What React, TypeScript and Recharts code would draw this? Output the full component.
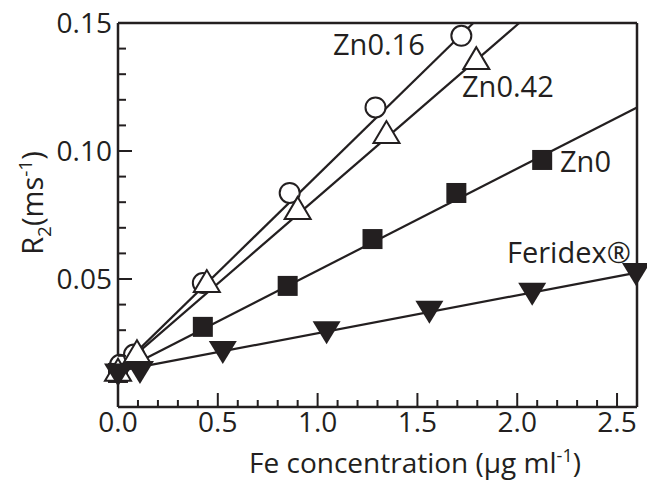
import React from 'react';
import { ScatterChart, Scatter, XAxis, YAxis, ReferenceLine } from 'recharts';

// measured points (Fe concentration in µg/ml, R2 in ms^-1)
const zn016X = [0.01, 0.08, 0.425, 0.86, 1.29, 1.72];
const zn016Y = [0.0165, 0.0205, 0.0484, 0.0836, 0.117, 0.145];
const zn042X = [0.0, 0.095, 0.445, 0.9, 1.345, 1.795];
const zn042Y = [0.0138, 0.021, 0.0484, 0.077, 0.1066, 0.1355];
const zn0X = [0.0, 0.425, 0.85, 1.275, 1.695, 2.125];
const zn0Y = [0.0133, 0.0313, 0.0473, 0.0656, 0.0836, 0.0965];
const feridexX = [0.0, 0.11, 0.525, 1.045, 1.56, 2.075, 2.595];
const feridexY = [0.0135, 0.0145, 0.0223, 0.030, 0.038, 0.045, 0.0527];

// linear fit lines, start and end
const fitZn016X = [0, 1.78];
const fitZn016Y = [0.0145, 0.15];
const fitZn042X = [0, 2.01];
const fitZn042Y = [0.0145, 0.15];
const fitZn0X = [0, 2.6];
const fitZn0Y = [0.0135, 0.117];
const fitFeridexX = [0, 2.6];
const fitFeridexY = [0.014, 0.0525];

const xTicks = [0, 0.1, 0.2, 0.3, 0.4, 0.5, 0.6, 0.7, 0.8, 0.9, 1.0, 1.1, 1.2, 1.3, 1.4, 1.5,
  1.6, 1.7, 1.8, 1.9, 2.0, 2.1, 2.2, 2.3, 2.4, 2.5];
const yTicks = [0.01, 0.02, 0.03, 0.04, 0.05, 0.06, 0.07, 0.08, 0.09, 0.10, 0.11, 0.12, 0.13, 0.14, 0.15];

const seriesLabels = ['Zn0.16', 'Zn0.42', 'Zn0', 'Feridex®'];

const zip = (xs: number[], ys: number[]) => xs.map((x, i) => ({ x, y: ys[i] }));

const INK = '#231f20';
const FONT = '"Open Sans", sans-serif';
const PLOT_LEFT = 118;
const PLOT_BOTTOM = 407;

const Circle = ({ cx, cy }: any) => (
  <circle cx={cx} cy={cy} r={10} fill="#fff" stroke={INK} strokeWidth={2} />
);
const Square = ({ cx, cy }: any) => (
  <rect x={cx - 10} y={cy - 10} width={20} height={20} fill={INK} />
);
const TriUp = ({ cx, cy }: any) => (
  <polygon points={`${cx},${cy - 13} ${cx - 13},${cy + 9} ${cx + 13},${cy + 9}`} fill="#fff" stroke={INK} strokeWidth={2} strokeLinejoin="miter" />
);
const TriDown = ({ cx, cy }: any) => (
  <polygon points={`${cx - 14},${cy - 9} ${cx + 14},${cy - 9} ${cx},${cy + 14}`} fill={INK} />
);
const NoDot = () => <g />;

const XTick = ({ x, payload }: any) => {
  const v = payload.value;
  const major = Math.abs(v * 2 - Math.round(v * 2)) < 1e-6;
  return (
    <g>
      <line x1={x} x2={x} y1={PLOT_BOTTOM} y2={PLOT_BOTTOM - (major ? 14 : 7)} stroke={INK} strokeWidth={2} />
      {major && (
        <text x={x} y={PLOT_BOTTOM + 25} textAnchor="middle" fontSize={28} fontFamily={FONT} fill={INK}>
          {v.toFixed(1)}
        </text>
      )}
    </g>
  );
};

const YTick = ({ y, payload }: any) => {
  const v = payload.value;
  const major = Math.abs(v * 20 - Math.round(v * 20)) < 1e-6;
  return (
    <g>
      <line x1={PLOT_LEFT} x2={PLOT_LEFT + (major ? 14 : 8)} y1={y} y2={y} stroke={INK} strokeWidth={2} />
      {major && (
        <text x={PLOT_LEFT - 6} y={y + 10} textAnchor="end" fontSize={28} fontFamily={FONT} fill={INK}>
          {v.toFixed(2)}
        </text>
      )}
    </g>
  );
};

const lineStyle = { stroke: INK, strokeWidth: 2.2 };

export default function App() {
  return (
    <div style={{ position: 'absolute', left: 0, top: 0, width: 647, height: 481, background: '#fff' }}>
      <ScatterChart width={647} height={481} margin={{ top: 23, right: 10, bottom: 0, left: 0 }}>
        <XAxis type="number" dataKey="x" domain={[0, 2.6]} ticks={xTicks} interval={0} height={74}
          axisLine={{ stroke: INK, strokeWidth: 2.5 }} tickLine={false} tick={<XTick />} />
        <YAxis type="number" dataKey="y" domain={[0, 0.15]} ticks={yTicks} interval={0} width={118}
          axisLine={{ stroke: INK, strokeWidth: 2.5 }} tickLine={false} tick={<YTick />} />
        <ReferenceLine y={0.15} stroke={INK} strokeWidth={2.5} />
        <ReferenceLine x={2.6} stroke={INK} strokeWidth={2.5} />

        <Scatter data={zip(fitZn016X, fitZn016Y)} line={lineStyle} shape={<NoDot />} isAnimationActive={false} />
        <Scatter data={zip(fitZn042X, fitZn042Y)} line={lineStyle} shape={<NoDot />} isAnimationActive={false} />
        <Scatter data={zip(fitZn0X, fitZn0Y)} line={lineStyle} shape={<NoDot />} isAnimationActive={false} />
        <Scatter data={zip(fitFeridexX, fitFeridexY)} line={lineStyle} shape={<NoDot />} isAnimationActive={false} />

        <Scatter name={seriesLabels[0]} data={zip(zn016X, zn016Y)} shape={<Circle />} isAnimationActive={false} />
        <Scatter name={seriesLabels[2]} data={zip(zn0X, zn0Y)} shape={<Square />} isAnimationActive={false} />
        <Scatter name={seriesLabels[1]} data={zip(zn042X, zn042Y)} shape={<TriUp />} isAnimationActive={false} />
        <Scatter name={seriesLabels[3]} data={zip(feridexX, feridexY)} shape={<TriDown />} isAnimationActive={false} />
      </ScatterChart>

      {/* series labels and axis titles */}
      <svg width={647} height={481} style={{ position: 'absolute', left: 0, top: 0, pointerEvents: 'none' }}
        fontFamily={FONT} fill={INK}>
        <text x={333} y={55} fontSize={29}>{seriesLabels[0]}</text>
        <text x={462} y={97} fontSize={29}>{seriesLabels[1]}</text>
        <text x={560} y={172} fontSize={29}>{seriesLabels[2]}</text>
        <text x={507} y={263} fontSize={29}>{seriesLabels[3]}</text>
        <text x={415} y={473} fontSize={28} textAnchor="middle">
          Fe concentration (μg ml<tspan dy={-11} fontSize={18}>-1</tspan><tspan dy={11}>)</tspan>
        </text>
        <text transform="translate(43,203) rotate(-90)" fontSize={29} textAnchor="middle">
          R<tspan dy={8} fontSize={19}>2</tspan><tspan dy={-8}>(ms</tspan><tspan dy={-11} fontSize={19}>-1</tspan><tspan dy={11}>)</tspan>
        </text>
      </svg>
    </div>
  );
}
